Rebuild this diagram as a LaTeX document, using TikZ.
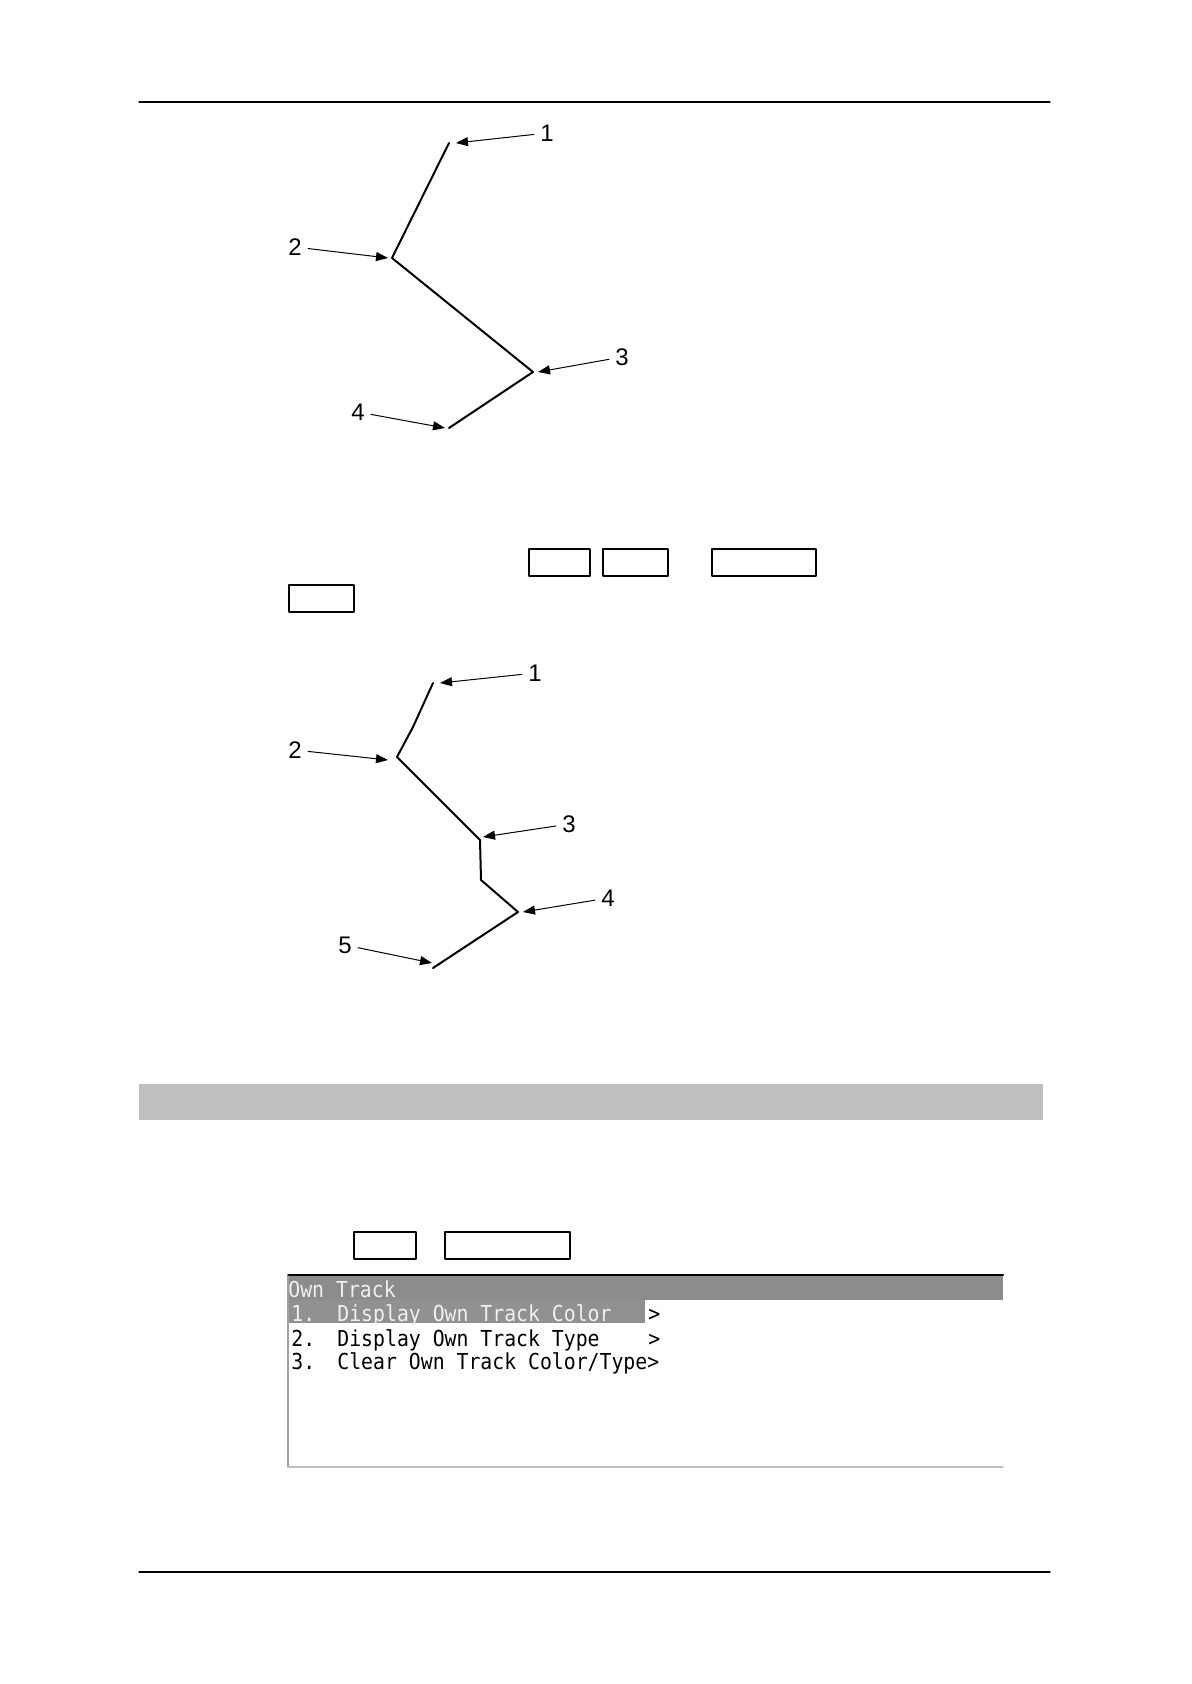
\documentclass[tikz,border=0pt]{standalone}
\usepackage{fontspec}
\setmainfont{Liberation Sans}
\newfontfamily\scrfont[FakeStretch=0.9]{DejaVu Sans Mono}
\usetikzlibrary{arrows.meta}
\definecolor{cqcqcq}{rgb}{0.75,0.75,0.75}
\definecolor{ycycyc}{rgb}{0.55,0.55,0.55}
\definecolor{zqzqzq}{rgb}{0.57,0.57,0.57}
\definecolor{aqaqaq}{rgb}{0.63,0.63,0.63}
\definecolor{eqeqeq}{rgb}{0.94,0.94,0.94}

\begin{document}
\begin{tikzpicture}[line cap=round,line join=round,>={Triangle[length=6pt,width=4.5pt]},x=0.5pt,y=-0.5pt,
  num/.style={font=\fontsize{12}{14}\selectfont,inner sep=3pt},
  pointer/.style={->,line width=0.5pt},
  track/.style={line width=1pt},
  keybox/.style={draw,line width=0.7pt},
  menu/.style={font=\scrfont\fontsize{11}{13}\selectfont,inner sep=0pt,anchor=base west}]
\useasboundingbox (0,0) rectangle (1191,1684);
\draw [line width=0.6pt] (139,102) -- (1050,102);
\draw [line width=0.6pt] (139,1572) -- (1050,1572);
% first track
\coordinate (a1) at (449,143);
\coordinate (a2) at (392,258);
\coordinate (a3) at (533,372);
\coordinate (a4) at (449,428);
\draw [track] (a1) -- (a2) -- (a3) -- (a4);
\node[num] (la1) at (547,133) {1};
\node[num] (la2) at (295,247) {2};
\node[num] (la3) at (622,357) {3};
\node[num] (la4) at (358,412) {4};
\coordinate (ta1) at (456,143);
\coordinate (ta2) at (388,258);
\coordinate (ta3) at (538,372);
\coordinate (ta4) at (445,428);
\draw [pointer] (la1) -- (ta1);
\draw [pointer] (la2) -- (ta2);
\draw [pointer] (la3) -- (ta3);
\draw [pointer] (la4) -- (ta4);
% keys
\draw [keybox] (529,549) rectangle (590,576);
\draw [keybox] (603,549) rectangle (668,576);
\draw [keybox] (712,549) rectangle (816,576);
\draw [keybox] (289,585) rectangle (354,612);
% second track
\coordinate (b1) at (433,683);
\coordinate (b2) at (397,757);
\coordinate (b3) at (480,840);
\coordinate (b4) at (518,912);
\coordinate (b5) at (433,968);
\draw [track] (b1) -- (413,727) -- (b2) -- (b3) -- (481,880) -- (b4) -- (b5);
\node[num] (lb1) at (535,673) {1};
\node[num] (lb2) at (295,750) {2};
\node[num] (lb3) at (569,824) {3};
\node[num] (lb4) at (608,898) {4};
\node[num] (lb5) at (345,945) {5};
\coordinate (tb1) at (440,683);
\coordinate (tb2) at (388,760);
\coordinate (tb3) at (483,837);
\coordinate (tb4) at (523,912);
\coordinate (tb5) at (432,963);
\draw [pointer] (lb1) -- (tb1);
\draw [pointer] (lb2) -- (tb2);
\draw [pointer] (lb3) -- (tb3);
\draw [pointer] (lb4) -- (tb4);
\draw [pointer] (lb5) -- (tb5);
% heading band
\fill [color=cqcqcq] (139,1084) rectangle (1043,1120);
\draw [keybox] (354,1232) rectangle (416,1259);
\draw [keybox] (445,1232) rectangle (570,1259);
% menu screen
\fill [color=ycycyc] (288,1276) rectangle (1003,1300);
\fill [color=zqzqzq] (288,1300) rectangle (645,1323);
\draw [line width=1pt] (288,1275) -- (1003,1275);
\draw [color=aqaqaq,line width=0.6pt] (288,1276) -- (288,1467);
\draw [color=cqcqcq,line width=0.6pt] (288,1467) -- (1003,1467);
\node[menu,text=eqeqeq] (title) at (288,1297) {Own Track};
\node[menu,text=eqeqeq] (n1) at (291,1321) {1.};
\node[menu,text=eqeqeq] (m1) at (337,1321) {Display Own Track Color};
\node[menu] (g1) at (648,1321) {>};
\node[menu] (n2) at (291,1346) {2.};
\node[menu] (m2) at (337,1346) {Display Own Track Type};
\node[menu] (g2) at (648,1346) {>};
\node[menu] (n3) at (291,1369) {3.};
\node[menu] (m3) at (337,1369) {Clear Own Track Color/Type>};
\end{tikzpicture}
\end{document}
